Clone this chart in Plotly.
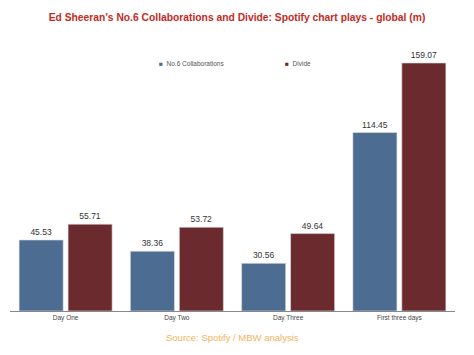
import plotly.graph_objects as go

categories = ["Day One", "Day Two", "Day Three", "First three days"]
collab_values = [45.53, 38.36, 30.56, 114.45]
divide_values = [55.71, 53.72, 49.64, 159.07]
series_names = ["No.6 Collaborations", "Divide"]

BLUE = "#4c6c92"
RED = "#6b2a2e"
colors = [BLUE, RED]

fig = go.Figure()
for name, vals, col in [(series_names[0], collab_values, BLUE), (series_names[1], divide_values, RED)]:
    fig.add_trace(go.Bar(
        x=categories, y=vals, name=name, showlegend=False,
        marker=dict(color=col, line=dict(color="rgba(220,220,220,0.8)", width=0.8)),
        text=[f"{v:.2f}" for v in vals], textposition="outside",
        textfont=dict(size=8.5, color="#333333", family="Liberation Sans, Arial"),
        cliponaxis=False,
    ))

# page has an 8px body margin; the figure is sized to fit the window from there
OFF = 8
W, H = 474 - OFF, 355 - OFF
PLOT_L, PLOT_R, PLOT_T, PLOT_B = 10, 455, 45, 311  # page pixels
ml, mr = PLOT_L - OFF, W - (PLOT_R - OFF)
mt, mb = PLOT_T - OFF, H - (PLOT_B - OFF)

def px_x(x):
    return (x - PLOT_L) / (PLOT_R - PLOT_L)

def px_y(y):
    return (PLOT_B - y) / (PLOT_B - PLOT_T)

legend_x = [157, 283]
annotations = []
for name, col, lx in zip(series_names, colors, legend_x):
    annotations.append(dict(
        text=f'<span style="color:{col}">■</span>  {name}',
        xref="paper", yref="paper", x=px_x(lx), y=px_y(63),
        xanchor="left", yanchor="middle", showarrow=False,
        font=dict(size=6.5, color="#555555", family="Liberation Sans, Arial"),
    ))
annotations.append(dict(
    text="Source: Spotify / MBW analysis", xref="paper", yref="paper",
    x=px_x(232), y=px_y(337), xanchor="center", yanchor="middle", showarrow=False,
    font=dict(size=9.5, color="#f4b262", family="Liberation Sans, Arial"),
))

fig.update_layout(
    width=W, height=H,
    margin=dict(l=ml, r=mr, t=mt, b=mb, autoexpand=False),
    paper_bgcolor="white", plot_bgcolor="white",
    barmode="group", bargap=0.12, bargroupgap=0.1,
    font=dict(family="Liberation Sans, Arial", color="#444444"),
    title=dict(
        text="<b>Ed Sheeran’s No.6 Collaborations and Divide: Spotify chart plays - global (m)</b>",
        x=(237 - OFF) / W, xanchor="center", y=1 - (17 - OFF) / H, yanchor="middle",
        font=dict(size=10.3, color="#c42b1f", family="Liberation Sans, Arial"),
    ),
    showlegend=False,
    xaxis=dict(
        showline=True, linecolor="#888888", linewidth=1, ticks="",
        tickfont=dict(size=6.5, color="#444444"), showgrid=False,
    ),
    yaxis=dict(range=[0, 170.6], visible=False, showgrid=False),
    annotations=annotations,
)

fig.write_html("out.html")
